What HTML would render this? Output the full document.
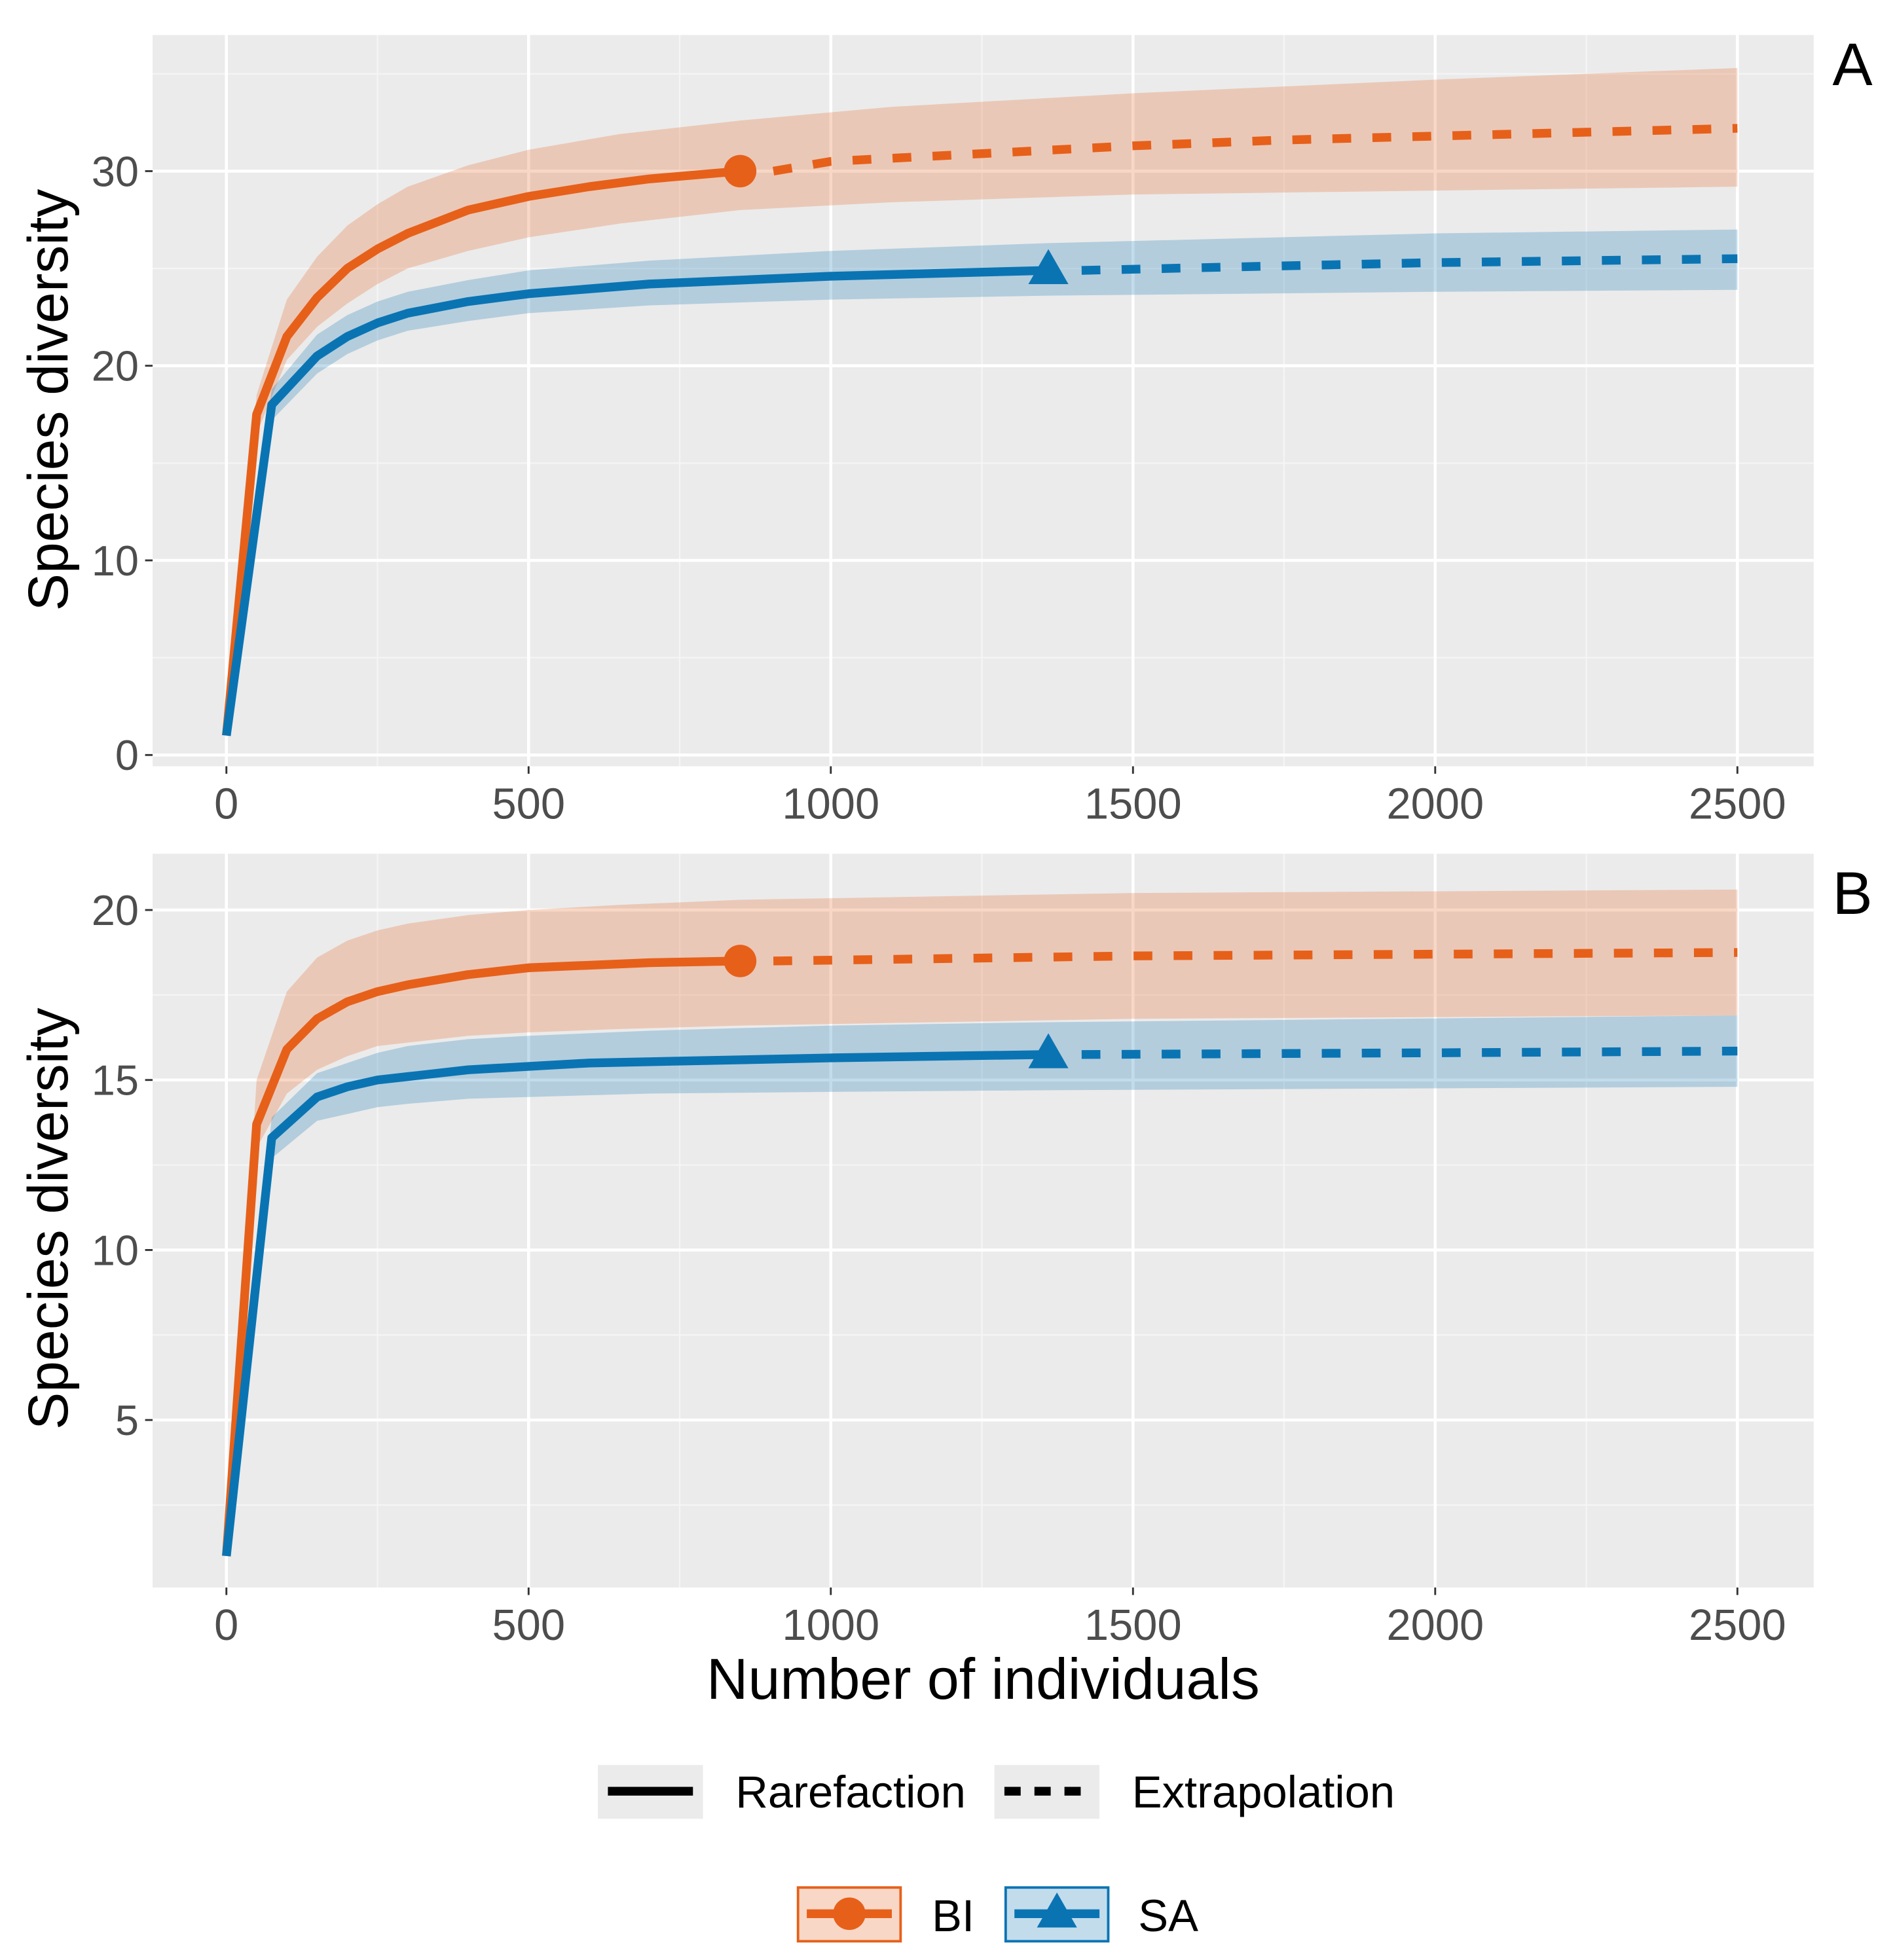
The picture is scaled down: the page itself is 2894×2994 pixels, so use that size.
<!DOCTYPE html>
<html><head><meta charset="utf-8">
<style>
html,body{margin:0;padding:0;background:#fff;}
svg{display:block;}
text{font-family:"Liberation Sans",sans-serif;}
</style></head>
<body>
<svg id="chart" width="2894" height="2994" viewBox="0 0 1515 1568" preserveAspectRatio="none" xmlns="http://www.w3.org/2000/svg">
<g id="root"></g>
</svg>
<script>
// ---- data ----
const xTicks = [0, 500, 1000, 1500, 2000, 2500];
const xTickLabels = ["0", "500", "1000", "1500", "2000", "2500"];
const yTicksA = [0, 10, 20, 30];
const yTicksB = [5, 10, 15, 20];

// Panel A - BI
const aBiRareX = [0, 50, 100, 150, 200, 250, 300, 400, 500, 600, 700, 850];
const aBiRareY = [1, 17.5, 21.5, 23.5, 25, 26, 26.8, 28, 28.7, 29.2, 29.6, 30];
const aBiExtX = [850, 1000, 1250, 1500, 1750, 2000, 2250, 2500];
const aBiExtY = [30, 30.5, 30.9, 31.3, 31.6, 31.8, 32.0, 32.2];
const aBiBandX = [0, 50, 100, 150, 200, 250, 300, 400, 500, 650, 850, 1100, 1500, 2000, 2500];
const aBiLow = [1, 16.5, 20.3, 22, 23.2, 24.2, 25, 25.9, 26.6, 27.3, 28, 28.4, 28.8, 29.0, 29.2];
const aBiHigh = [1, 18.5, 23.4, 25.6, 27.2, 28.3, 29.2, 30.3, 31.1, 31.9, 32.6, 33.3, 34, 34.7, 35.3];
// Panel A - SA
const aSaRareX = [0, 75, 150, 200, 250, 300, 400, 500, 700, 1000, 1360];
const aSaRareY = [1, 18, 20.5, 21.5, 22.2, 22.7, 23.3, 23.7, 24.2, 24.6, 24.9];
const aSaExtX = [1360, 1700, 2000, 2500];
const aSaExtY = [24.9, 25.1, 25.3, 25.5];
const aSaBandX = [0, 75, 150, 200, 250, 300, 400, 500, 700, 1000, 1360, 2000, 2500];
const aSaLow = [1, 17.2, 19.6, 20.6, 21.3, 21.8, 22.3, 22.7, 23.1, 23.4, 23.6, 23.8, 23.9];
const aSaHigh = [1, 18.8, 21.6, 22.6, 23.3, 23.8, 24.4, 24.9, 25.4, 25.9, 26.3, 26.8, 27.0];

// Panel B - BI
const bBiRareX = [0, 50, 100, 150, 200, 250, 300, 400, 500, 700, 850];
const bBiRareY = [1, 13.7, 15.9, 16.8, 17.3, 17.6, 17.8, 18.1, 18.3, 18.45, 18.5];
const bBiExtX = [850, 1500, 2000, 2500];
const bBiExtY = [18.5, 18.65, 18.7, 18.75];
const bBiBandX = [0, 50, 100, 150, 200, 250, 300, 400, 500, 650, 850, 1500, 2500];
const bBiLow = [1, 13, 14.6, 15.3, 15.7, 16.0, 16.1, 16.3, 16.4, 16.5, 16.6, 16.8, 16.9];
const bBiHigh = [1, 15, 17.6, 18.6, 19.1, 19.4, 19.6, 19.85, 20.0, 20.15, 20.3, 20.5, 20.6];
// Panel B - SA
const bSaRareX = [0, 75, 150, 200, 250, 300, 400, 600, 1000, 1360];
const bSaRareY = [1, 13.3, 14.5, 14.8, 15, 15.1, 15.3, 15.5, 15.65, 15.75];
const bSaExtX = [1360, 2000, 2500];
const bSaExtY = [15.75, 15.8, 15.85];
const bSaBandX = [0, 75, 150, 200, 250, 300, 400, 500, 700, 1000, 1360, 2500];
const bSaLow = [1, 12.7, 13.8, 14.0, 14.2, 14.3, 14.45, 14.5, 14.6, 14.65, 14.7, 14.8];
const bSaHigh = [1, 13.9, 15.2, 15.5, 15.8, 16.0, 16.2, 16.3, 16.45, 16.6, 16.7, 16.9];

const ORANGE = "#E6601A", BLUE = "#0A74B3";
const NS = "http://www.w3.org/2000/svg";
const root = document.getElementById("root");
function mk(tag, attrs, parent) {
  const e = document.createElementNS(NS, tag);
  for (const k in attrs) e.setAttribute(k, attrs[k]);
  (parent || root).appendChild(e);
  return e;
}
const xs = v => 181 + v * (1389 - 181) / 2500;

function panel(cfg) {
  const g = mk("g", {});
  
  
  const ys = v => cfg.y0 - (v - cfg.v0) * cfg.k;
  const bg = mk("rect", {x:122, y:cfg.top, width:1328, height:cfg.bottom - cfg.top, fill:"#EBEBEB"}, g);
  
  
  for (let v = -250; v <= 2750; v += 500) {
    const x = xs(v);
    if (x > 122 && x < 1450) mk("line", {x1:x, x2:x, y1:cfg.top, y2:cfg.bottom, stroke:"#F5F5F5", "stroke-width":1.2}, g);
  }
  cfg.minor.forEach(v => mk("line", {x1:122, x2:1450, y1:ys(v), y2:ys(v), stroke:"#F5F5F5", "stroke-width":1.2}, g));
  xTicks.forEach(v => mk("line", {x1:xs(v), x2:xs(v), y1:cfg.top, y2:cfg.bottom, stroke:"#FFFFFF", "stroke-width":2.4}, g));
  cfg.yTicks.forEach(v => mk("line", {x1:122, x2:1450, y1:ys(v), y2:ys(v), stroke:"#FFFFFF", "stroke-width":2.4}, g));
  function band(bx, lo, hi, color, op, nm) {
    let d = "M" + bx.map((x, i) => xs(x) + "," + ys(hi[i])).join("L");
    for (let i = bx.length - 1; i >= 0; i--) d += "L" + xs(bx[i]) + "," + ys(lo[i]);
    const p = mk("path", {d:d + "Z", fill:color, "fill-opacity":op}, g);
    
    
  }
  band(cfg.biBX, cfg.biLo, cfg.biHi, ORANGE, 0.25, 'bi-confidence-band');
  band(cfg.saBX, cfg.saLo, cfg.saHi, BLUE, 0.25, 'sa-confidence-band');
  function line(xa, ya, color, dashed, nm) {
    const d = "M" + xa.map((x, i) => xs(x) + "," + ys(ya[i])).join("L");
    const a = {d:d, fill:"none", stroke:color, "stroke-width":7, "stroke-linejoin":"round"};
    if (dashed) a["stroke-dasharray"] = "15,17";
    const p = mk("path", a, g);
    
    
  }
  line(cfg.biRX, cfg.biRY, ORANGE, false, 'bi-rarefaction-line');
  line(cfg.biEX.map((x,i)=>i===0?x+55:x), cfg.biEY, ORANGE, true, 'bi-extrapolation-line');
  line(cfg.saRX, cfg.saRY, BLUE, false, 'sa-rarefaction-line');
  line(cfg.saEX.map((x,i)=>i===0?x+55:x), cfg.saEY, BLUE, true, 'sa-extrapolation-line');
  const bx = cfg.biRX[cfg.biRX.length - 1], by = cfg.biRY[cfg.biRY.length - 1];
  const c = mk("circle", {cx:xs(bx), cy:ys(by), r:13, fill:ORANGE}, g);
  
  
  const sx = xs(cfg.saRX[cfg.saRX.length - 1]), sy = ys(cfg.saRY[cfg.saRY.length - 1]);
  const t = mk("path", {d:`M${sx},${sy-17}L${sx+16},${sy+11}L${sx-16},${sy+11}Z`, fill:BLUE}, g);
  
  
  cfg.yTicks.forEach(v => {
    mk("line", {x1:116, x2:122, y1:ys(v), y2:ys(v), stroke:"#333", "stroke-width":1.5}, g);
    const tx = mk("text", {x:111, y:ys(v) + 12, "text-anchor":"end", "font-size":34, fill:"#4D4D4D"}, g);
    tx.textContent = String(v);
    
    
  });
  xTicks.forEach((v, i) => {
    mk("line", {x1:xs(v), x2:xs(v), y1:cfg.bottom, y2:cfg.bottom + 6, stroke:"#333", "stroke-width":1.5}, g);
    const tx = mk("text", {x:xs(v), y:cfg.bottom + 42, "text-anchor":"middle", "font-size":35, fill:"#4D4D4D"}, g);
    tx.textContent = xTickLabels[i];
    
    
  });
  const yt = mk("text", {x:0, y:0, transform:`translate(54,${cfg.titleY}) rotate(-90)`, "text-anchor":"middle", "font-size":45, fill:"#000"}, g);
  yt.textContent = "Species diversity";
  
  
  const lab = mk("text", {x:1481, y:cfg.labelY, "text-anchor":"middle", "font-size":48, fill:"#000"}, g);
  lab.textContent = cfg.label;
  
  
}

panel({name:'panel-a', top:28, bottom:613, y0:604, v0:0, k:15.57, yTicks:yTicksA, minor:[5,15,25,35],
  biBX:aBiBandX, biLo:aBiLow, biHi:aBiHigh, saBX:aSaBandX, saLo:aSaLow, saHi:aSaHigh,
  biRX:aBiRareX, biRY:aBiRareY, biEX:aBiExtX, biEY:aBiExtY,
  saRX:aSaRareX, saRY:aSaRareY, saEX:aSaExtX, saEY:aSaExtY, titleY:320, label:"A", labelY:68});
panel({name:'panel-b', top:683, bottom:1270, y0:728, v0:20, k:27.2, yTicks:yTicksB, minor:[2.5,7.5,12.5,17.5],
  biBX:bBiBandX, biLo:bBiLow, biHi:bBiHigh, saBX:bSaBandX, saLo:bSaLow, saHi:bSaHigh,
  biRX:bBiRareX, biRY:bBiRareY, biEX:bBiExtX, biEY:bBiExtY,
  saRX:bSaRareX, saRY:bSaRareY, saEX:bSaExtX, saEY:bSaExtY, titleY:975, label:"B", labelY:731});

const xt = mk("text", {x:786, y:1359, "text-anchor":"middle", "font-size":46, fill:"#000"});
xt.textContent = "Number of individuals";



function key(x, y, nm) {
  const r = mk("rect", {x:x, y:y, width:84, height:43, fill:"#EBEBEB"});
  
  
  return r;
}
key(478, 1412, 'legend-rarefaction-key');
mk("line", {x1:486, x2:554, y1:1433, y2:1433, stroke:"#000", "stroke-width":7});
const t1 = mk("text", {x:588, y:1446, "font-size":36, fill:"#000"}); t1.textContent = "Rarefaction";


key(795, 1412, 'legend-extrapolation-key');
mk("line", {x1:803, x2:873, y1:1433, y2:1433, stroke:"#000", "stroke-width":7, "stroke-dasharray":"13,11"});
const t2 = mk("text", {x:905, y:1446, "font-size":36, fill:"#000"}); t2.textContent = "Extrapolation";



const k1 = mk("rect", {x:638, y:1510, width:82, height:43, fill:ORANGE, "fill-opacity":0.25, stroke:ORANGE, "stroke-width":2});


mk("line", {x1:645, x2:713, y1:1531, y2:1531, stroke:ORANGE, "stroke-width":7});
mk("circle", {cx:679, cy:1531, r:13, fill:ORANGE});
const t3 = mk("text", {x:745, y:1545, "font-size":36, fill:"#000"}); t3.textContent = "BI";


const k2 = mk("rect", {x:804, y:1510, width:82, height:43, fill:BLUE, "fill-opacity":0.25, stroke:BLUE, "stroke-width":2});


mk("line", {x1:811, x2:879, y1:1531, y2:1531, stroke:BLUE, "stroke-width":7});
mk("path", {d:"M845,1514L861,1542L829,1542Z", fill:BLUE});
const t4 = mk("text", {x:910, y:1545, "font-size":36, fill:"#000"}); t4.textContent = "SA";


</script>
</body></html>
